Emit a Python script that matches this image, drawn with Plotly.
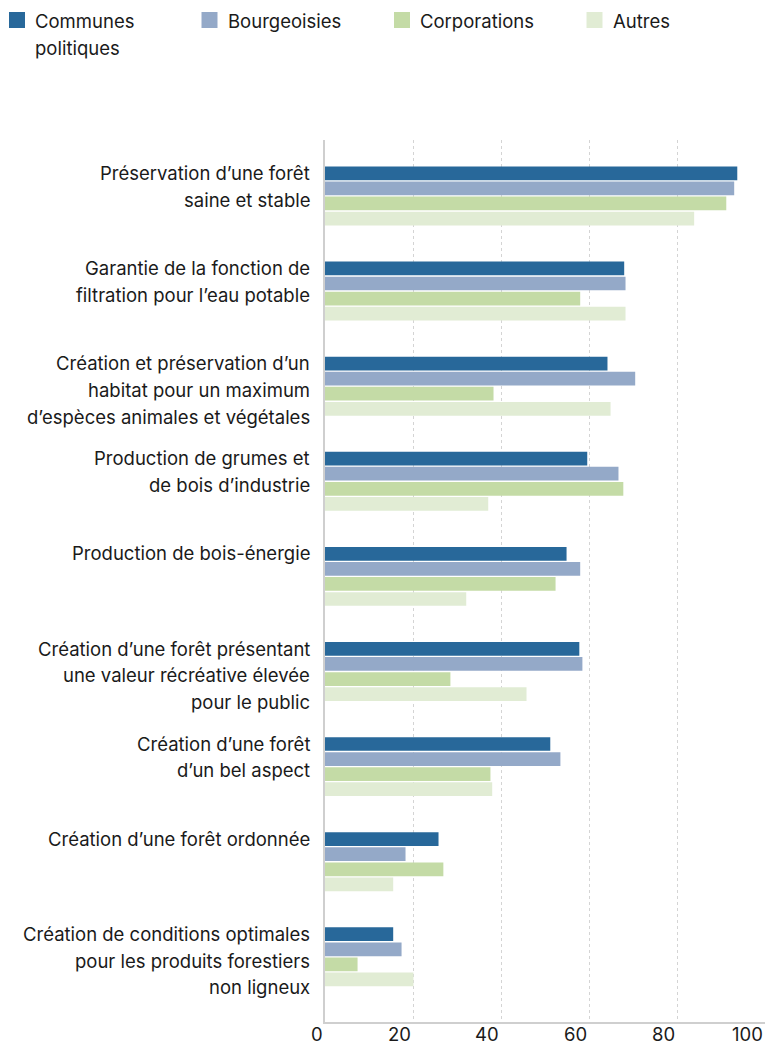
import plotly.graph_objects as go

categories = [
    "Préservation d’une forêt\nsaine et stable",
    "Garantie de la fonction de\nfiltration pour l’eau potable",
    "Création et préservation d’un\nhabitat pour un maximum\nd’espèces animales et végétales",
    "Production de grumes et\nde bois d’industrie",
    "Production de bois-énergie",
    "Création d’une forêt présentant\nune valeur récréative élevée\npour le public",
    "Création d’une forêt\nd’un bel aspect",
    "Création d’une forêt ordonnée",
    "Création de conditions optimales\npour les produits forestiers\nnon ligneux",
]
series_names = ["Communes\npolitiques", "Bourgeoisies", "Corporations", "Autres"]
communes = [93.7, 68.0, 64.2, 59.6, 54.9, 57.8, 51.2, 25.8, 15.5]
bourgeoisies = [93.0, 68.3, 70.5, 66.7, 58.0, 58.5, 53.5, 18.3, 17.4]
corporations = [91.2, 58.0, 38.3, 67.8, 52.4, 28.5, 37.6, 26.9, 7.4]
autres = [83.9, 68.3, 64.9, 37.1, 32.1, 45.8, 38.0, 15.5, 20.1]
x_ticks = [0, 20, 40, 60, 80, 100]

colors = ["#28689a", "#94a9c8", "#c4dba6", "#e1ecd4"]
FONT = "Inter"
TXT = "#1a1a1a"
FS = 18.5

W, H = 769, 1045
ML, MR, MT, MB = 325, 4, 140, 23

fig = go.Figure()
for name, vals, col in zip(series_names, [communes, bourgeoisies, corporations, autres], colors):
    fig.add_trace(go.Bar(
        y=categories, x=vals, name=name.replace("\n", " "), orientation="h",
        marker=dict(color=col, line=dict(width=0)),
        hoverinfo="x+name", showlegend=False,
    ))

annotations = []
shapes = []
# y-axis category labels (top aligned, multi-line)
for cat in categories:
    for i, line in enumerate(cat.split("\n")):
        annotations.append(dict(
            x=0, xref="paper", y=cat, yref="y",
            text=line, showarrow=False, xanchor="right", yanchor="middle",
            xshift=-13, yshift=23 - 26.7 * i,
            font=dict(family=FONT, size=FS, color=TXT),
        ))
# x tick labels, right-aligned at tick positions
for t in x_ticks:
    annotations.append(dict(
        x=t, xref="x", y=0, yref="paper", text=str(t), showarrow=False,
        xanchor="right", yanchor="top", xshift=-1.5, yshift=0, borderpad=0,
        font=dict(family=FONT, size=FS, color=TXT),
    ))
# legend (drawn manually: 16px squares, first line aligned)
for k, (name, col) in enumerate(zip(series_names, colors)):
    sq_left = 9 + 192.5 * k  # figure px
    shapes.append(dict(
        type="rect", xref="paper", yref="paper",
        xsizemode="pixel", ysizemode="pixel", xanchor=0, yanchor=1,
        x0=sq_left - ML, x1=sq_left + 16 - ML, y0=MT - 12, y1=MT - 28,
        fillcolor=col, line=dict(width=0),
    ))
    for i, line in enumerate(name.split("\n")):
        annotations.append(dict(
            x=0, xref="paper", y=1, yref="paper", text=line, showarrow=False,
            xanchor="left", yanchor="middle",
            xshift=sq_left + 24 - ML, yshift=MT - 21 - 27 * i,
            font=dict(family=FONT, size=FS, color=TXT),
        ))

fig.update_layout(
    width=W, height=H,
    margin=dict(l=ML, r=MR, t=MT, b=MB, autoexpand=False),
    paper_bgcolor="white", plot_bgcolor="white",
    barmode="group", bargap=0.366, bargroupgap=0.09,
    font=dict(family=FONT, size=FS, color=TXT),
    showlegend=False,
    annotations=annotations,
    shapes=shapes,
    xaxis=dict(
        range=[0, 100], tickvals=x_ticks, showticklabels=False,
        showgrid=True, gridcolor="#d4d4d4", griddash="dot", gridwidth=1,
        showline=True, linecolor="#cfcfcf", linewidth=1.5,
        zeroline=False, ticks="", fixedrange=True,
    ),
    yaxis=dict(
        type="category", categoryorder="array", categoryarray=categories,
        range=[8.685, -0.588], showticklabels=False, showgrid=False,
        showline=True, linecolor="#cfcfcf", linewidth=1.5, ticks="",
        zeroline=False, fixedrange=True,
    ),
)

fig.write_html(
    "out.html",
    config={"displayModeBar": False},
    post_script="document.body.style.margin='0';document.body.style.overflow='hidden';",
)
